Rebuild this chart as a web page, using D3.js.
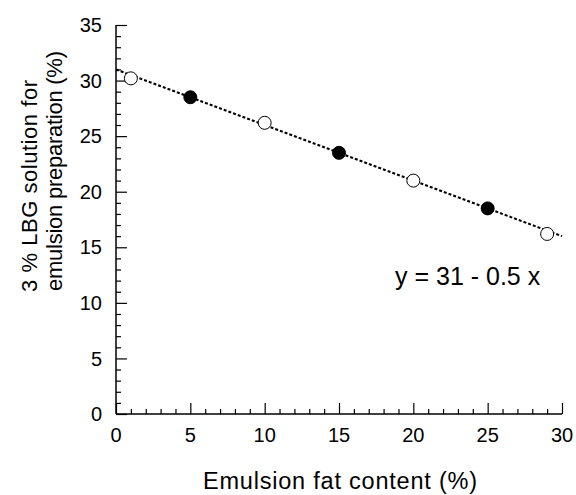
<!DOCTYPE html>
<html>
<head>
<meta charset="utf-8">
<script src="https://cdn.jsdelivr.net/npm/d3@7"></script>
<style>
  body { margin: 0; background: #fff; }
  svg text { font-family: "Liberation Sans", Arial, sans-serif; fill: #000; }
</style>
</head>
<body>
<svg id="chart" width="576" height="495"></svg>
<script>
// data
var fatContent = [1, 5, 10, 15, 20, 25, 29];
var lbgSolution = [30.2, 28.5, 26.2, 23.5, 21.0, 18.5, 16.2];
var filled = [false, true, false, true, false, true, false];
var fitX = [0, 30];
var fitIntercept = 31, fitSlope = -0.5;
var xTicks = [0, 5, 10, 15, 20, 25, 30];
var yTicks = [0, 5, 10, 15, 20, 25, 30, 35];

var svg = d3.select("#chart");

var x = d3.scaleLinear().domain([0, 30]).range([116, 562]);
var y = d3.scaleLinear().domain([0, 35]).range([414, 25]);

// minor ticks every 1 unit, inward
var xMinor = d3.range(0, 31, 1);
var yMinor = d3.range(0, 36, 1);

var gx = svg.append("g").attr("transform", "translate(0," + y(0) + ")");
gx.call(d3.axisTop(x).tickValues(xMinor).tickSize(5).tickFormat(""));
gx.call(function(g) {
    g.selectAll(".tick line").filter(function(d) { return d % 5 === 0; }).attr("y2", -11);
});
gx.select(".domain").remove();
gx.append("line").attr("x1", x(0)).attr("x2", x(30)).attr("stroke", "#000").attr("stroke-width", 1.5);
gx.selectAll(".tick line").attr("stroke", "#000").attr("stroke-width", 1.2);

var gy = svg.append("g").attr("transform", "translate(" + x(0) + ",0)");
gy.call(d3.axisRight(y).tickValues(yMinor).tickSize(5).tickFormat(""));
gy.call(function(g) {
    g.selectAll(".tick line").filter(function(d) { return d % 5 === 0; }).attr("x2", 11);
});
gy.select(".domain").remove();
gy.append("line").attr("y1", y(0)).attr("y2", y(35)).attr("stroke", "#000").attr("stroke-width", 1.5);
gy.selectAll(".tick line").attr("stroke", "#000").attr("stroke-width", 1.2);

// tick labels
svg.append("g").selectAll("text")
    .data(xTicks)
    .enter()
    .append("text")
    .attr("x", function(d) { return x(d); })
    .attr("y", 442)
    .attr("text-anchor", "middle")
    .style("font-size", "20px")
    .text(function(d) { return d; });

svg.append("g").selectAll("text")
    .data(yTicks)
    .enter()
    .append("text")
    .attr("x", 102)
    .attr("y", function(d) { return y(d); })
    .attr("dy", "0.36em")
    .attr("text-anchor", "end")
    .style("font-size", "20px")
    .text(function(d) { return d; });

// axis titles
svg.append("text")
    .attr("x", 340)
    .attr("y", 489)
    .attr("text-anchor", "middle")
    .attr("textLength", 274)
    .attr("lengthAdjust", "spacing")
    .style("font-size", "23.5px")
    .text("Emulsion fat content (%)");

var yTitle = svg.append("text")
    .attr("transform", "translate(37,180) rotate(-90)")
    .attr("text-anchor", "middle")
    .style("font-size", "22px");
yTitle.append("tspan").attr("x", -6).attr("dy", 0)
    .attr("textLength", 212).attr("lengthAdjust", "spacing")
    .text("3 % LBG solution for");
yTitle.append("tspan").attr("x", 9).attr("dy", 25)
    .attr("textLength", 240).attr("lengthAdjust", "spacing")
    .text("emulsion preparation (%)");

// fitted line
var line = d3.line()
    .x(function(d) { return x(d); })
    .y(function(d) { return y(fitIntercept + fitSlope * d); });

svg.append("path")
    .datum(fitX)
    .attr("d", line)
    .attr("fill", "none")
    .attr("stroke", "#000")
    .attr("stroke-width", 2)
    .attr("stroke-dasharray", "3,2");

// points
svg.append("g").selectAll("circle")
    .data(fatContent)
    .enter()
    .append("circle")
    .attr("cx", function(d) { return x(d); })
    .attr("cy", function(d, i) { return y(lbgSolution[i]); })
    .attr("r", 6.5)
    .attr("fill", function(d, i) { return filled[i] ? "#000" : "#fff"; })
    .attr("stroke", "#000")
    .attr("stroke-width", 1);

svg.append("text")
    .attr("x", 395)
    .attr("y", 285)
    .style("font-size", "25px")
    .text("y = 31 - 0.5 x");
</script>
</body>
</html>
